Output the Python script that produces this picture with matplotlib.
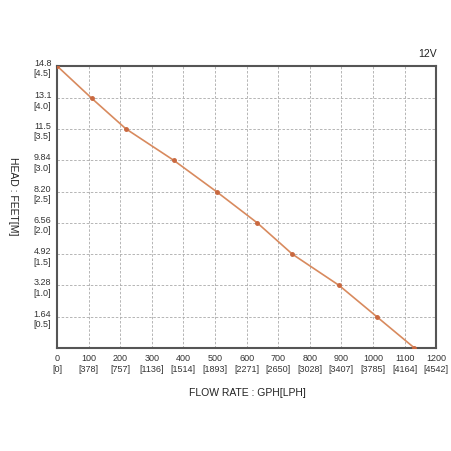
import matplotlib
matplotlib.use("Agg")
import matplotlib.pyplot as plt

plt.rcParams['font.family'] = ['Liberation Sans', 'DejaVu Sans']

# pump curve at 12V
flow_gph = [0, 110, 218, 370, 505, 634, 745, 893, 1012, 1131]
head_ft = [14.8, 13.1, 11.5, 9.84, 8.20, 6.56, 4.92, 3.28, 1.64, 0]

x_ticks = [0, 100, 200, 300, 400, 500, 600, 700, 800, 900, 1000, 1100, 1200]
x_lph = [0, 378, 757, 1136, 1514, 1893, 2271, 2650, 3028, 3407, 3785, 4164, 4542]
y_ticks = [1.64, 3.28, 4.92, 6.56, 8.20, 9.84, 11.5, 13.1, 14.8]
y_m = ["0.5", "1.0", "1.5", "2.0", "2.5", "3.0", "3.5", "4.0", "4.5"]
y_ft = ["1.64", "3.28", "4.92", "6.56", "8.20", "9.84", "11.5", "13.1", "14.8"]

fig = plt.figure(figsize=(4.52, 4.52), dpi=100)
ax = fig.add_axes([0.126, 0.228, 0.839, 0.624])

ax.plot(flow_gph, head_ft, color="#d88a5e", lw=1.2, zorder=3)
ax.plot(flow_gph, head_ft, "o", ms=2.5, color="#c9683f", zorder=4)

ax.set_xlim(0, 1200)
ax.set_ylim(0, 14.8)
ax.set_xticks(x_ticks)
ax.set_xticklabels([f"{a}\n[{b}]" for a, b in zip(x_ticks, x_lph)])
ax.set_yticks(y_ticks)
ax.set_yticklabels([f"{a}\n[{b}]" for a, b in zip(y_ft, y_m)])
ax.tick_params(length=0, labelsize=6.5, colors="#333333", pad=4)

ax.grid(True, ls=(0, (3, 2)), color="#aaaaaa", lw=0.6)
for s in ax.spines.values():
    s.set_color("#555555")
    s.set_linewidth(1.5)

fig.text(0.028, 0.566, "HEAD : FEET[M]", rotation=270, ha="center", va="center",
         fontsize=7.5, color="#222222")
fig.text(0.547, 0.13, "FLOW RATE : GPH[LPH]", ha="center", va="center",
         fontsize=7.5, color="#222222")
fig.text(0.945, 0.88, "12V", ha="center", va="center", fontsize=7.5, color="#222222")

fig.savefig("out.png", dpi=100)
